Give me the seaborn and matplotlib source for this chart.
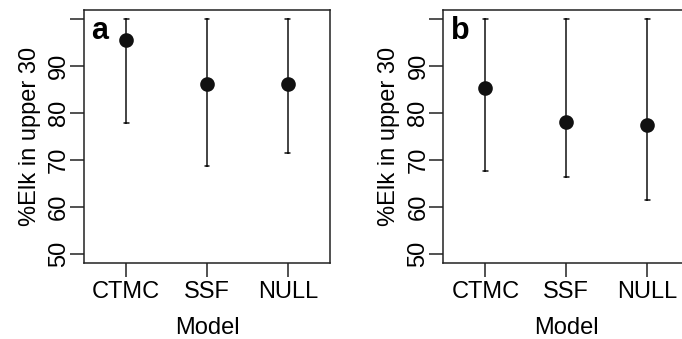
import numpy as np
import pandas as pd
import matplotlib
matplotlib.use("Agg")
import matplotlib.pyplot as plt
import seaborn as sns

# Models and interval estimates
models = ["CTMC", "SSF", "NULL"]

est_a = [95.7, 86.2, 86.2]
low_a = [78.0, 68.7, 71.5]
high_a = [100.0, 100.0, 100.0]

est_b = [85.3, 78.1, 77.4]
low_b = [67.7, 66.3, 61.6]
high_b = [100.0, 100.0, 100.0]

yticks = [50, 60, 70, 80, 90, 100]
ytick_labels = ["50", "60", "70", "80", "90", ""]

sns.set_style("ticks", {"text.color": "black", "axes.labelcolor": "black",
                        "xtick.color": "black", "ytick.color": "black"})
plt.rcParams["font.family"] = ["Liberation Sans", "DejaVu Sans"]


def long_table(est, low, high):
    # three rows per model: lower, estimate, upper -> median = estimate
    rows = []
    for m, e, lo, hi in zip(models, est, low, high):
        for v in (lo, e, hi):
            rows.append({"Model": m, "pct": v})
    return pd.DataFrame(rows)


fig = plt.figure(figsize=(6.82, 3.39), dpi=100)
ax_a = fig.add_axes([84 / 682, 75.7 / 339, 246 / 682, 253.3 / 339])
ax_b = fig.add_axes([443.3 / 682, 75.7 / 339, 246 / 682, 253.3 / 339])

for ax, (est, low, high), tag in [(ax_a, (est_a, low_a, high_a), "a"),
                                  (ax_b, (est_b, low_b, high_b), "b")]:
    df = long_table(est, low, high)
    sns.pointplot(data=df, x="Model", y="pct", order=models,
                  estimator=np.median,
                  errorbar=lambda v: (v.min(), v.max()),
                  linestyle="none", color="#111111", markers="o",
                  markersize=8.5, err_kws={"linewidth": 1.1},
                  capsize=0.06, ax=ax)
    ax.set_xlim(-0.52, 2.52)
    ax.set_ylim(48, 102)
    ax.set_yticks(yticks)
    ax.set_yticklabels(ytick_labels, rotation=90, va="center")
    ax.set_xlabel("Model", fontsize=17, labelpad=10)
    ax.set_ylabel("%Elk in upper 30", fontsize=17, labelpad=5)
    ax.tick_params(axis="both", length=10, width=1.1, labelsize=17,
                   color="#222222")
    ax.tick_params(axis="x", pad=3)
    ax.tick_params(axis="y", pad=0)
    for s in ax.spines.values():
        s.set_linewidth(1.1)
        s.set_color("#222222")
    ax.text(0.03, 0.975, tag, transform=ax.transAxes, fontsize=22,
            fontweight="bold", va="top", ha="left")

fig.savefig("out.png", dpi=100)
